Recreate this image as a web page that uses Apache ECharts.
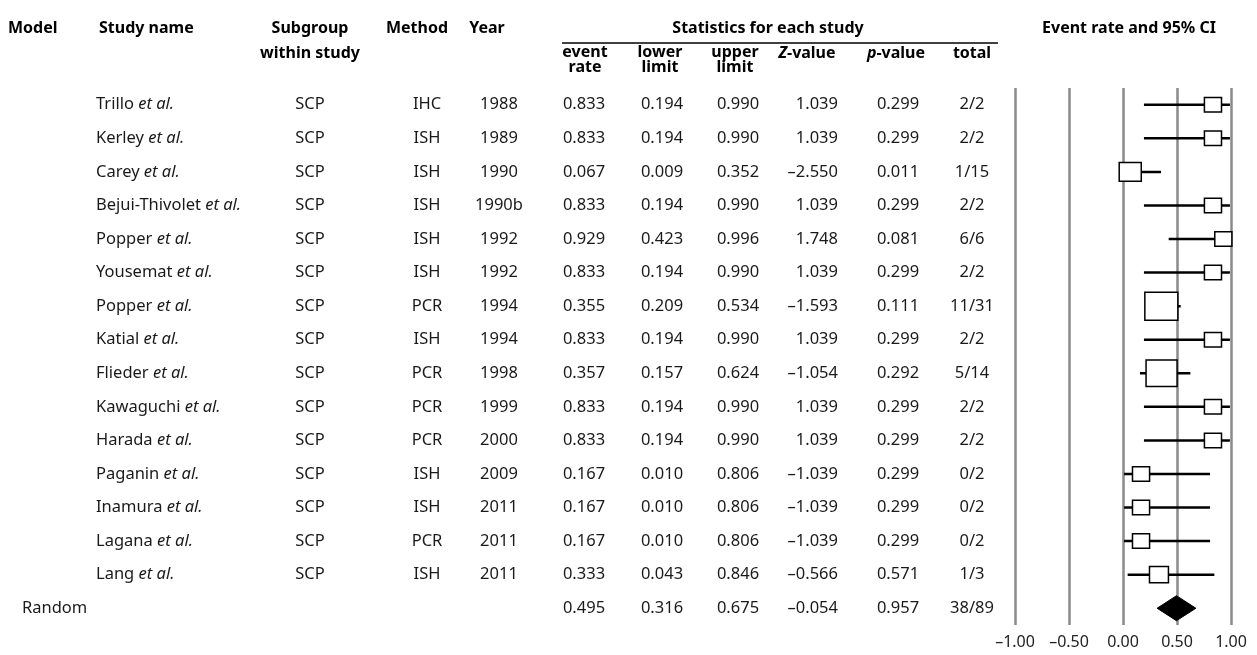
<!DOCTYPE html>
<html>
<head>
<meta charset="utf-8">
<title>Forest plot</title>
<script src="https://cdn.jsdelivr.net/npm/echarts@6/dist/echarts.min.js"></script>
<style>
  html, body { margin: 0; padding: 0; background: #fff; }
  #chart { width: 1257px; height: 655px; }
</style>
</head>
<body>
<div id="chart"></div>
<script>
// study data
const authors = ["Trillo", "Kerley", "Carey", "Bejui-Thivolet", "Popper", "Yousemat", "Popper", "Katial",
  "Flieder", "Kawaguchi", "Harada", "Paganin", "Inamura", "Lagana", "Lang"];
const subgroups = ["SCP", "SCP", "SCP", "SCP", "SCP", "SCP", "SCP", "SCP", "SCP", "SCP", "SCP", "SCP", "SCP", "SCP", "SCP"];
const methods = ["IHC", "ISH", "ISH", "ISH", "ISH", "ISH", "PCR", "ISH", "PCR", "PCR", "PCR", "ISH", "ISH", "PCR", "ISH"];
const years = ["1988", "1989", "1990", "1990b", "1992", "1992", "1994", "1994", "1998", "1999", "2000", "2009", "2011", "2011", "2011"];
const eventRate = [0.833, 0.833, 0.067, 0.833, 0.929, 0.833, 0.355, 0.833, 0.357, 0.833, 0.833, 0.167, 0.167, 0.167, 0.333];
const lowerLimit = [0.194, 0.194, 0.009, 0.194, 0.423, 0.194, 0.209, 0.194, 0.157, 0.194, 0.194, 0.010, 0.010, 0.010, 0.043];
const upperLimit = [0.990, 0.990, 0.352, 0.990, 0.996, 0.990, 0.534, 0.990, 0.624, 0.990, 0.990, 0.806, 0.806, 0.806, 0.846];
const zValue = [1.039, 1.039, -2.550, 1.039, 1.748, 1.039, -1.593, 1.039, -1.054, 1.039, 1.039, -1.039, -1.039, -1.039, -0.566];
const pValue = [0.299, 0.299, 0.011, 0.299, 0.081, 0.299, 0.111, 0.299, 0.292, 0.299, 0.299, 0.299, 0.299, 0.299, 0.571];
const totals = ["2/2", "2/2", "1/15", "2/2", "6/6", "2/2", "11/31", "2/2", "5/14", "2/2", "2/2", "0/2", "0/2", "0/2", "1/3"];
// relative weights (%)
const weights = [4.8, 4.8, 8.0, 4.8, 4.8, 4.8, 17.9, 4.8, 15.8, 4.8, 4.8, 4.8, 4.8, 4.8, 5.9];

// pooled (random effects)
const pooledLabel = "Random";
const pooled = { rate: 0.495, lower: 0.316, upper: 0.675, z: -0.054, p: 0.957, total: "38/89" };

const FONT = "'Noto Sans', sans-serif";
const TXT = "#1a1a1a";
const BODY_SIZE = 16.5;
const HEAD_SIZE = 16;

// column x positions for the table part
const COL = {
  study: 96, subgroup: 310, method: 427, year: 499,
  rate: 584, lower: 662, upper: 738, z: 838, p: 898, total: 972, model: 22
};

const fmt = (v) => (v < 0 ? "\u2013" : "") + Math.abs(v).toFixed(3);

const rowNames = authors.map((a, i) => a + " " + years[i]).concat([pooledLabel]);

const chart = echarts.init(document.getElementById("chart"), null, { renderer: "canvas" });

function txt(x, y, text, align, extra) {
  return {
    type: "text",
    x: x, y: y,
    style: Object.assign({
      text: text,
      fill: TXT,
      font: BODY_SIZE + "px " + FONT,
      align: align || "center",
      verticalAlign: "middle"
    }, extra || {})
  };
}

function headerText(x, y, text, align, rich) {
  const t = {
    type: "text",
    x: x, y: y,
    style: {
      text: text,
      fill: "#000",
      font: "bold " + HEAD_SIZE + "px " + FONT,
      align: align || "center",
      verticalAlign: "middle",
      lineHeight: 15
    }
  };
  if (rich) t.style.rich = rich;
  return t;
}

const italicHead = {
  i: { fontStyle: "italic", fontWeight: "bold", fontSize: HEAD_SIZE, fontFamily: FONT, fill: "#000" },
  n: { fontWeight: "bold", fontSize: HEAD_SIZE, fontFamily: FONT, fill: "#000" }
};

const option = {
  animation: false,
  backgroundColor: "#fff",
  grid: { left: 1015, top: 88, width: 216, height: 537 },
  xAxis: {
    type: "value",
    min: -1, max: 1, interval: 0.5,
    axisLine: { show: false },
    axisTick: { show: false },
    splitLine: { show: true, lineStyle: { color: "#8a8a8a", width: 2.5 } },
    axisLabel: {
      show: true, showMinLabel: true, showMaxLabel: true,
      margin: 9,
      color: "#222",
      fontFamily: FONT,
      fontSize: 16,
      formatter: (v) => (v < 0 ? "\u2013" : "") + Math.abs(v).toFixed(2)
    }
  },
  yAxis: {
    type: "category",
    inverse: true,
    data: rowNames,
    show: false
  },
  graphic: [
    headerText(8, 28, "Model", "left"),
    headerText(99, 28, "Study name", "left"),
    headerText(310, 28, "Subgroup"),
    headerText(310, 53, "within study"),
    headerText(417, 28, "Method"),
    headerText(487, 28, "Year"),
    headerText(768, 28, "Statistics for each study"),
    {
      type: "line",
      shape: { x1: 562, y1: 43, x2: 998, y2: 43 },
      style: { stroke: "#000", lineWidth: 1.5 }
    },
    headerText(585, 60, "event\nrate"),
    headerText(660, 60, "lower\nlimit"),
    headerText(735, 60, "upper\nlimit"),
    headerText(807, 53, "{i|Z}{n|-value}", "center", italicHead),
    headerText(896, 53, "{i|p}{n|-value}", "center", italicHead),
    headerText(972, 53, "total"),
    headerText(1129, 28, "Event rate and 95% CI")
  ],
  series: [
    {
      // table text, one row per study plus the pooled row
      type: "custom",
      name: "table",
      coordinateSystem: "cartesian2d",
      silent: true,
      clip: false,
      data: rowNames.map((_, i) => [0, i]),
      renderItem: function (params, api) {
        const i = api.value(1);
        const y = api.coord([0, i])[1];
        if (i === authors.length) {
          return {
            type: "group",
            children: [
              txt(COL.model, y, pooledLabel, "left"),
              txt(COL.rate, y, fmt(pooled.rate)),
              txt(COL.lower, y, fmt(pooled.lower)),
              txt(COL.upper, y, fmt(pooled.upper)),
              txt(COL.z, y, fmt(pooled.z), "right"),
              txt(COL.p, y, fmt(pooled.p)),
              txt(COL.total, y, pooled.total)
            ]
          };
        }
        return {
          type: "group",
          children: [
            txt(COL.study, y, "{n|" + authors[i] + " }{i|et al.}", "left", {
              rich: {
                n: { fontSize: BODY_SIZE, fontFamily: FONT, fill: TXT },
                i: { fontSize: BODY_SIZE, fontFamily: FONT, fontStyle: "italic", fill: TXT }
              }
            }),
            txt(COL.subgroup, y, subgroups[i]),
            txt(COL.method, y, methods[i]),
            txt(COL.year, y, years[i]),
            txt(COL.rate, y, fmt(eventRate[i])),
            txt(COL.lower, y, fmt(lowerLimit[i])),
            txt(COL.upper, y, fmt(upperLimit[i])),
            txt(COL.z, y, fmt(zValue[i]), "right"),
            txt(COL.p, y, fmt(pValue[i])),
            txt(COL.total, y, totals[i])
          ]
        };
      }
    },
    {
      // study CIs and weighted boxes
      type: "custom",
      name: "studies",
      coordinateSystem: "cartesian2d",
      silent: true,
      clip: false,
      z: 3,
      data: eventRate.map((r, i) => [r, lowerLimit[i], upperLimit[i], weights[i], i]),
      encode: { x: [0, 1, 2], y: 4 },
      renderItem: function (params, api) {
        const idx = api.value(4);
        const c = api.coord([api.value(0), idx]);
        const lo = api.coord([Math.max(api.value(1), -1), idx])[0];
        const hi = api.coord([Math.min(api.value(2), 1), idx])[0];
        const w = 7.8 * Math.sqrt(api.value(3));
        const h = w * 0.85;
        return {
          type: "group",
          children: [
            {
              type: "line",
              shape: { x1: lo, y1: c[1], x2: hi, y2: c[1] },
              style: { stroke: "#000", lineWidth: 2.5 }
            },
            {
              type: "rect",
              shape: { x: c[0] - w / 2, y: c[1] - h / 2, width: w, height: h },
              style: { fill: "#fff", stroke: "#000", lineWidth: 1.5 }
            }
          ]
        };
      }
    },
    {
      // pooled estimate diamond
      type: "custom",
      name: "pooled",
      coordinateSystem: "cartesian2d",
      silent: true,
      clip: false,
      z: 3,
      data: [[pooled.rate, pooled.lower, pooled.upper, authors.length]],
      encode: { x: [0, 1, 2], y: 3 },
      renderItem: function (params, api) {
        const idx = api.value(3);
        const c = api.coord([api.value(0), idx]);
        const lo = api.coord([api.value(1), idx])[0];
        const hi = api.coord([api.value(2), idx])[0];
        const hh = 12.5;
        return {
          type: "polygon",
          shape: { points: [[lo, c[1]], [c[0], c[1] - hh], [hi, c[1]], [c[0], c[1] + hh]] },
          style: { fill: "#000", stroke: "#000", lineWidth: 1 }
        };
      }
    }
  ]
};

chart.setOption(option);
</script>
</body>
</html>
